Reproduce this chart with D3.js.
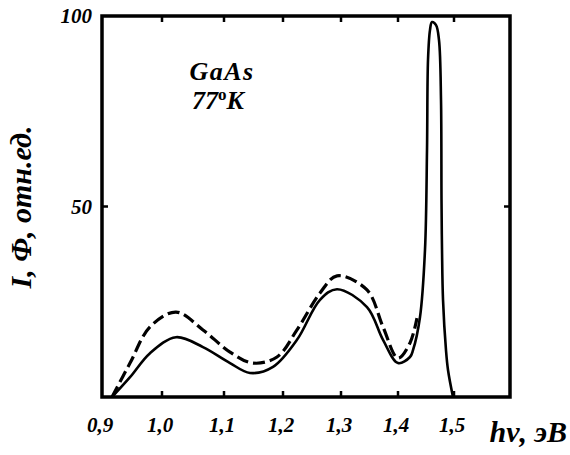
<!DOCTYPE html>
<html><head><meta charset="utf-8">
<script src="https://cdn.jsdelivr.net/npm/d3@7/dist/d3.min.js"></script>
<style>html,body{margin:0;padding:0;background:#fff;}</style>
</head>
<body>
<svg id="chart" width="570" height="455"></svg>
<script>
// data
const xTicks = [0.9, 1.0, 1.1, 1.2, 1.3, 1.4, 1.5];
const xTickLabels = ["0,9", "1,0", "1,1", "1,2", "1,3", "1,4", "1,5"];
const yTicks = [50, 100];
const yTickLabels = ["50", "100"];
const solidX = [0.9167,0.9467,0.98,1.0226,1.0661,1.1102,1.1441,1.1831,1.2241,1.2638,1.2931,1.3456,1.3737,1.4,1.4214,1.4268,1.4393,1.4482,1.4518,1.4536,1.4571,1.4607,1.4679,1.4732,1.4768,1.4777,1.4786,1.4804,1.4857,1.4893,1.4982];
const solidY = [0,5.2,11.5,15.7,13.1,8.9,6.3,7.9,15.0,25.5,28.3,23.6,15.0,8.9,10.5,12.3,21.0,38.6,64.8,88.5,96.3,98.4,97.6,93.7,78,51.7,38.6,25.5,12.3,7.1,0];
const dashX = [0.9167,0.9467,0.98,1.0226,1.0661,1.1102,1.1492,1.1898,1.2241,1.2638,1.2931,1.3456,1.3737,1.4,1.4214,1.4339];
const dashY = [0,8.9,18.4,22.3,17.6,11.8,8.9,10.5,17.6,27.3,31.8,28.1,18.4,10.2,14.2,20.7];

const FONT = "Liberation Serif";
const svg = d3.select("#chart");
const pL = 102, pR = 510, pT = 16, pB = 397;
// hand-drawn axis: tick spacing slightly uneven, so a polylinear scale
const x = d3.scaleLinear()
  .domain([0.9, 1.0, 1.1, 1.2, 1.3, 1.4, 1.5, 1.6])
  .range([102, 162, 224, 283, 341, 398, 454, 510]);
const y = d3.scaleLinear().domain([0, 100]).range([pB, pT]);

function txt(sel) {
  return sel.append("text").attr("font-family", FONT).attr("font-weight", "bold")
    .attr("font-style", "italic").attr("fill", "#000");
}

// curves
const line = d3.line().x(d => x(d[0])).y(d => y(d[1])).curve(d3.curveCatmullRom.alpha(0.5));
svg.append("path").datum(dashX.map((v,i)=>[v,dashY[i]]))
  .attr("d", line).attr("fill","none").attr("stroke","#000")
  .attr("stroke-width",3.2).attr("stroke-dasharray","12,5");
svg.append("path").datum(solidX.map((v,i)=>[v,solidY[i]]))
  .attr("d", line).attr("fill","none").attr("stroke","#000")
  .attr("stroke-width",2.6).attr("stroke-linejoin","round");

// frame
svg.append("rect").attr("x",pL).attr("y",pT).attr("width",pR-pL).attr("height",pB-pT)
  .attr("fill","none").attr("stroke","#000").attr("stroke-width",3.5);

// ticks (inward)
const tl = 6;
xTicks.slice(1).forEach(t => {
  svg.append("line").attr("x1",x(t)).attr("x2",x(t)).attr("y1",pB).attr("y2",pB-tl).attr("stroke","#000").attr("stroke-width",2.5);
  svg.append("line").attr("x1",x(t)).attr("x2",x(t)).attr("y1",pT).attr("y2",pT+tl).attr("stroke","#000").attr("stroke-width",2.5);
});
yTicks.slice(0,1).forEach(t => {
  svg.append("line").attr("x1",pL).attr("x2",pL+tl).attr("y1",y(t)).attr("y2",y(t)).attr("stroke","#000").attr("stroke-width",2.5);
  svg.append("line").attr("x1",pR).attr("x2",pR-tl).attr("y1",y(t)).attr("y2",y(t)).attr("stroke","#000").attr("stroke-width",2.5);
});

// tick labels
xTicks.forEach((t,i) => {
  txt(svg).attr("x",x(t)-2).attr("y",432).attr("text-anchor","middle")
    .attr("font-size",21).text(xTickLabels[i]);
});
yTicks.forEach((t,i) => {
  txt(svg).attr("x",92).attr("y",y(t)+7).attr("text-anchor","end")
    .attr("font-size",21).text(yTickLabels[i]);
});

// axis titles
txt(svg).attr("x",567).attr("y",442).attr("text-anchor","end")
  .attr("font-size",30).text("hν, эВ");
txt(svg).attr("transform","translate(31,207) rotate(-90)").attr("text-anchor","middle")
  .attr("font-size",30).text("I, Φ, отн.ед.");

// annotation
txt(svg).attr("x",222).attr("y",80).attr("text-anchor","middle").attr("font-size",26).attr("letter-spacing",1.5).text("GaAs");
const t2 = txt(svg).attr("x",218).attr("y",109).attr("text-anchor","middle").attr("font-size",26);
t2.append("tspan").text("77");
t2.append("tspan").attr("dy",-9).attr("font-size",17).attr("font-style","normal").text("o");
t2.append("tspan").attr("dy",9).text("K");
</script>
</body></html>
